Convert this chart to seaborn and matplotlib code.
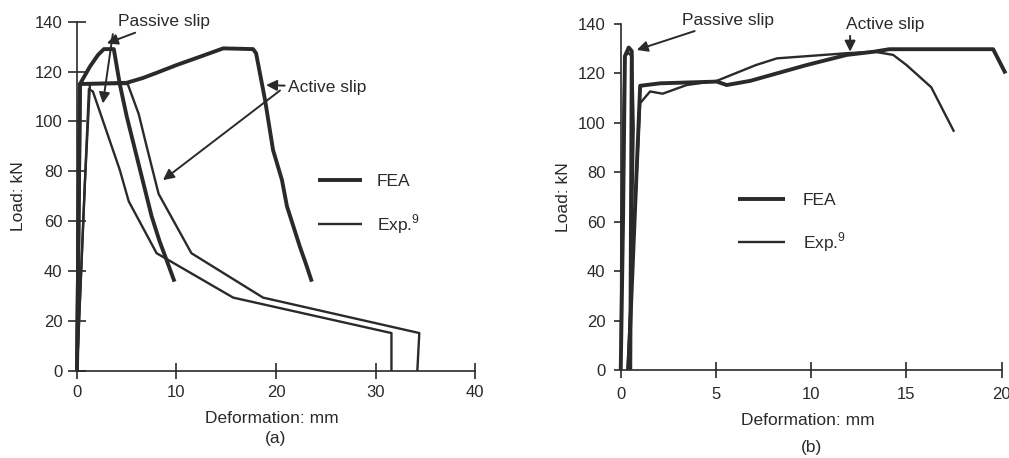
import matplotlib
matplotlib.use("Agg")
from matplotlib import pyplot as plt
import seaborn as sns

# ---- panel (a) data: deformation (mm), load (kN) ----
a_fea_passive_x = [0, 0.3, 1.3, 2.1, 2.7, 3.7, 4.3, 5.0, 6.5, 7.5, 8.3, 9.0, 9.8]
a_fea_passive_y = [0, 115, 122, 126.6, 129, 129, 115, 102, 78, 62, 52, 44.5, 35.8]

a_fea_active_x = [0, 0.3, 5.0, 6.6, 8.0, 10.0, 12.4, 14.7, 17.7, 18.0, 18.9, 19.7,
                  20.6, 21.1, 22.4, 23.0, 23.6]
a_fea_active_y = [0, 115, 115.5, 117.4, 119.5, 122.6, 126, 129.3, 129, 127.3, 108.6, 88.6,
                  76.5, 66, 49.8, 43, 35.8]

a_exp_passive_x = [0, 0.8, 1.2, 1.6, 4.3, 5.2, 8.0, 15.7, 31.6, 31.6]
a_exp_passive_y = [0, 76, 113, 112, 80.6, 68, 47.2, 29.4, 15.2, 0]

a_exp_active_x = [0, 0.8, 1.3, 5.1, 6.2, 7.0, 8.2, 11.5, 18.7, 34.4, 34.2]
a_exp_active_y = [0, 76, 115, 115, 103, 90, 71, 47.2, 29.4, 15.2, 0]

# ---- panel (b) data ----
b_fea_passive_x = [0, 0.12, 0.22, 0.42, 0.58, 0.5]
b_fea_passive_y = [0, 60, 127, 130.5, 129, 0]

b_exp_passive_x = [0, 0.03, 0.2, 0.35, 0.6, 0.68, 0.55, 0.45]
b_exp_passive_y = [0, 60, 126, 128.5, 127, 98, 40, 0]

b_fea_active_x = [0.4, 1.02, 2.07, 5.04, 5.56, 6.8, 9.76, 11.87, 13.3, 14.1, 19.55, 20.2]
b_fea_active_y = [0, 115, 116, 116.7, 115.3, 117, 123.4, 127.5, 128.8, 129.8, 129.8, 120]

b_exp_active_x = [0.35, 1.02, 1.54, 2.2, 3.46, 5.04, 7.1, 8.2, 11.9, 13.3, 14.3, 15.0,
                  16.3, 17.5]
b_exp_active_y = [0, 108, 112.7, 111.8, 115.3, 117, 123.4, 126.1, 128.2, 128.8, 127.5, 123.4,
                  114.4, 96.4]

y_ticks = [0, 20, 40, 60, 80, 100, 120, 140]
a_x_ticks = [0, 10, 20, 30, 40]
b_x_ticks = [0, 5, 10, 15, 20]

INK = "#2a2a2a"
FS = 12.5

sns.set_style("ticks")
plt.rcParams["font.family"] = ["Liberation Sans", "DejaVu Sans"]
plt.rcParams["text.color"] = INK
plt.rcParams["axes.labelcolor"] = INK
plt.rcParams["xtick.color"] = INK
plt.rcParams["ytick.color"] = INK


def draw(ax, xs, ys, lw, label=None):
    sns.lineplot(x=xs, y=ys, sort=False, estimator=None, color=INK,
                 linewidth=lw, label=label, clip_on=False, ax=ax,
                 solid_joinstyle="round", solid_capstyle="butt")


def style_axes(ax, xticks, xmax):
    ax.set_xlim(0, xmax)
    ax.set_ylim(0, 140)
    ax.set_xticks(xticks)
    ax.set_yticks(y_ticks)
    sns.despine(ax=ax)
    for s in ["left", "bottom"]:
        ax.spines[s].set_linewidth(1.2)
        ax.spines[s].set_color(INK)
    ax.tick_params(labelsize=12)
    ax.set_xlabel("Deformation: mm", fontsize=FS)
    ax.set_ylabel("Load: kN", fontsize=FS)


fig = plt.figure(figsize=(10.09, 4.58), dpi=100)

# ---------------- (a) ----------------
ax1 = fig.add_axes([0.0763, 0.19, 0.3945, 0.7627])
draw(ax1, a_fea_passive_x, a_fea_passive_y, 2.8, "FEA")
draw(ax1, a_fea_active_x, a_fea_active_y, 2.8)
draw(ax1, a_exp_passive_x, a_exp_passive_y, 1.7, r"Exp.$^\mathregular{9}$")
draw(ax1, a_exp_active_x, a_exp_active_y, 1.7)
style_axes(ax1, a_x_ticks, 40)
ax1.tick_params(axis="y", direction="inout", length=13, width=1.2, pad=4)
ax1.tick_params(axis="x", direction="inout", length=12, width=1.2, pad=4)
ax1.yaxis.set_label_coords(-0.128, 0.5)
ax1.xaxis.set_label_coords(0.489, -0.1145)
ax1.text(0.5, -0.192, "(a)", transform=ax1.transAxes, ha="center", va="center",
         fontsize=FS)

arrow = dict(arrowstyle="-|>", color=INK, lw=1.4, mutation_scale=16,
             shrinkA=0, shrinkB=0)
ax1.annotate("Passive slip", xy=(3.0, 131.3), xytext=(4.1, 139.9),
             ha="left", va="center", fontsize=FS, arrowprops=arrow,
             annotation_clip=False)
ax1.annotate("", xy=(2.6, 107.2), xytext=(3.6, 135), arrowprops=arrow,
             annotation_clip=False)
ax1.annotate("Active slip", xy=(19.0, 114.6), xytext=(21.2, 113.8),
             ha="left", va="center", fontsize=FS, arrowprops=arrow)
ax1.annotate("", xy=(8.64, 76.5), xytext=(20.4, 112.4), arrowprops=arrow)

ax1.legend(frameon=False, loc="upper left", bbox_to_anchor=(0.6055, 0.5635),
           borderpad=0, borderaxespad=0, handlelength=2.53, handletextpad=0.86,
           labelspacing=1.32, fontsize=FS)

# ---------------- (b) ----------------
ax2 = fig.add_axes([0.6152, 0.1921, 0.3776, 0.7555])
draw(ax2, b_exp_passive_x, b_exp_passive_y, 1.7)
draw(ax2, b_fea_passive_x, b_fea_passive_y, 2.8, "FEA")
draw(ax2, b_fea_active_x, b_fea_active_y, 2.8)
draw(ax2, b_exp_active_x, b_exp_active_y, 1.7, r"Exp.$^\mathregular{9}$")
style_axes(ax2, b_x_ticks, 20)
ax2.tick_params(axis="y", direction="out", length=5, width=1.2, pad=6)
ax2.tick_params(axis="x", direction="inout", length=12, width=1.2, pad=6)
ax2.yaxis.set_label_coords(-0.131, 0.5)
ax2.xaxis.set_label_coords(0.4916, -0.1234)
ax2.text(0.502, -0.225, "(b)", transform=ax2.transAxes, ha="center", va="center",
         fontsize=FS)

ax2.annotate("Passive slip", xy=(0.84, 129.5), xytext=(3.2, 141.5),
             ha="left", va="center", fontsize=FS, arrowprops=arrow,
             annotation_clip=False)
ax2.annotate("Active slip", xy=(12.04, 128.8), xytext=(11.85, 139.6),
             ha="left", va="center", fontsize=FS, annotation_clip=False)
ax2.annotate("", xy=(12.04, 128.8), xytext=(12.04, 135.2), arrowprops=arrow,
             annotation_clip=False)

h, l = ax2.get_legend_handles_labels()
order = [l.index("FEA"), 1 - l.index("FEA")]
ax2.legend([h[i] for i in order], [l[i] for i in order], frameon=False,
           loc="upper left", bbox_to_anchor=(0.309, 0.5115), borderpad=0,
           borderaxespad=0, handlelength=2.7, handletextpad=1.0,
           labelspacing=1.27, fontsize=FS)

fig.savefig("out.png", dpi=100)
